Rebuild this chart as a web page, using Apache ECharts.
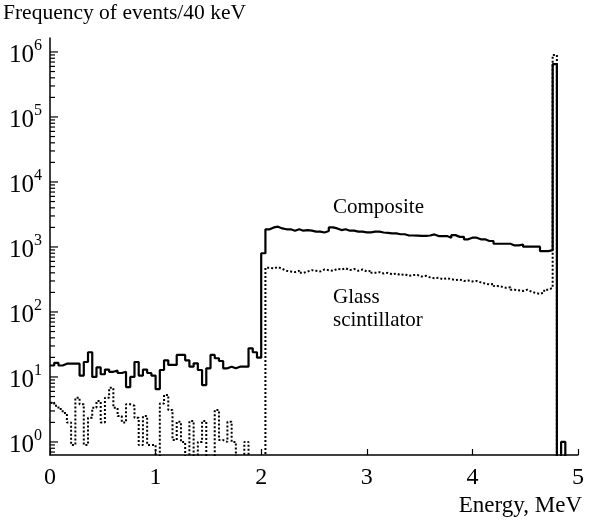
<!DOCTYPE html>
<html lang="en">
<head>
<meta charset="UTF-8" />
<title>Energy spectrum</title>
<script src="https://cdn.jsdelivr.net/npm/echarts@6/dist/echarts.min.js"></script>
<style>
    html, body { margin: 0; padding: 0; background: #fff; }
    #chart { width: 592px; height: 520px; }
</style>
</head>
<body>
<div id="chart"></div>
<script>
// 40 keV bins, counts per bin
var binWidth = 0.04;

var composite = [
    15, 16.5, 15, 16, 16, 16, 16, 10.5, 17, 24, 10, 14, 11, 13, 12, 12.5, 11.5, 12, 7, 10, 17, 10.5, 13, 11.5, 10.5,
    6.5, 12.8, 18, 15.3, 15.3, 21.8, 21.8, 18, 14.4, 16.2, 12.8, 7.5, 13.6, 21.8, 19.4, 17.6, 13.6, 14.4, 13.6, 14.4, 14.4, 14.4, 27.6, 24, 19.8,
    800, 1870, 2000, 2050, 1930, 1870, 1870, 1780, 1870, 1780, 1820, 1780, 1720, 1720, 1670, 1760, 2000, 1930, 1820, 1870, 1780, 1780, 1720, 1720, 1680,
    1680, 1720, 1720, 1670, 1650, 1620, 1620, 1570, 1570, 1500, 1500, 1490, 1480, 1480, 1500, 1560, 1470, 1470, 1470, 1390, 1520, 1430, 1430, 1310, 1390,
    1390, 1310, 1310, 1235, 1235, 1120, 1120, 1120, 1120, 1055, 1055, 1090, 1010, 1010, 1010, 1010, 865, 865, 895, 650000, 0, 1, 0, 0, 0
];

var glass = [
    4.0, 3.6, 3.2, 2.8, 2.0, 0.9, 4.8, 3.8, 0.9, 2.35, 3.35, 4.25, 2.0, 4.8, 6.8, 3.35, 2.5, 2.0, 3.8, 3.6, 2.35, 0.9, 2.5, 0.9, 0.9,
    0, 3.9, 5.3, 3.1, 1.07, 2.05, 1.0, 0, 2.1, 0, 1.0, 2.1, 0, 0, 3.1, 1.07, 1.0, 2.05, 1.0, 0, 0, 1.0, 0, 0, 0,
    0, 480, 470, 490, 460, 430, 420, 410, 430, 400, 420, 440, 430, 420, 450, 440, 430, 460, 450, 470, 440, 460, 430, 450, 420,
    430, 400, 410, 390, 400, 380, 390, 370, 380, 360, 370, 370, 350, 360, 340, 330, 335, 320, 330, 320, 310, 315, 300, 305, 295,
    300, 285, 275, 265, 270, 250, 245, 235, 240, 220, 215, 210, 220, 205, 195, 190, 200, 220, 235, 900000, 0, 0, 0, 0, 0
];

var xTicks = [0, 1, 2, 3, 4, 5];
var yDecades = [0, 1, 2, 3, 4, 5, 6];
var minorSteps = [2, 3, 4, 5, 6, 7, 8, 9];

var Y_MIN = 0.63;
var Y_MAX = 1.64e6;
var FLOOR = 0.1; // empty bins drop below the axis

var FONT = 'Liberation Serif';

function toSteps(counts) {
    var pts = [];
    counts.forEach(function (c, i) {
        pts.push([i * binWidth, c > 0 ? c : FLOOR]);
    });
    var last = counts[counts.length - 1];
    pts.push([counts.length * binWidth, last > 0 ? last : FLOOR]);
    return pts;
}

// y axis ticks (major at decades, minor 2..9)
var tickData = [];
yDecades.forEach(function (e) {
    tickData.push([0, Math.pow(10, e), 1]);
});
for (var e = -1; e < 6; e++) {
    minorSteps.forEach(function (m) {
        var v = m * Math.pow(10, e);
        if (v > Y_MIN && v < Y_MAX) tickData.push([0, v, 0]);
    });
}

var chart = echarts.init(document.getElementById('chart'));

var option = {
    animation: false,
    backgroundColor: '#fff',
    grid: { left: 50, right: 14, top: 38, bottom: 65 },
    xAxis: {
        type: 'value',
        min: xTicks[0],
        max: xTicks[xTicks.length - 1],
        interval: 1,
        axisLine: { lineStyle: { color: '#000', width: 1.5 } },
        axisTick: { inside: true, length: 6, lineStyle: { color: '#000', width: 1.2 } },
        axisLabel: { color: '#000', fontFamily: FONT, fontSize: 24, margin: 11 },
        splitLine: { show: false }
    },
    yAxis: {
        type: 'log',
        logBase: 10,
        min: Y_MIN,
        max: Y_MAX,
        axisLine: { show: true, lineStyle: { color: '#000', width: 1.5 } },
        axisTick: { show: false },
        splitLine: { show: false },
        axisLabel: {
            margin: 8,
            formatter: function (value) {
                var lg = Math.log10(value);
                var ex = Math.round(lg);
                if (Math.abs(lg - ex) > 1e-6 || yDecades.indexOf(ex) < 0) return '';
                return '{b|10}{s|' + ex + '}';
            },
            rich: {
                b: { fontFamily: FONT, fontSize: 25, lineHeight: 28, color: '#000', padding: [6, 0, 0, 0] },
                s: { fontFamily: FONT, fontSize: 16, lineHeight: 16, color: '#000', verticalAlign: 'top' }
            }
        }
    },
    graphic: [
        { type: 'text', left: 3, top: 2, style: { text: 'Frequency of events/40 keV', font: '21.5px "Liberation Serif"', fill: '#000' } },
        { type: 'text', right: 10, top: 494, style: { text: 'Energy, MeV', font: '23px "Liberation Serif"', fill: '#000' } },
        { type: 'text', left: 333, top: 197, style: { text: 'Composite', font: '21px "Liberation Serif"', fill: '#000' } },
        { type: 'text', left: 333, top: 286, style: { text: 'Glass\nscintillator', font: '21px "Liberation Serif"', lineHeight: 23, fill: '#000' } }
    ],
    series: [
        {
            name: 'Glass scintillator',
            type: 'line',
            step: 'end',
            symbol: 'none',
            data: toSteps(glass),
            lineStyle: { color: '#000', width: 2, type: [2, 2] },
            z: 2
        },
        {
            name: 'Composite',
            type: 'line',
            step: 'end',
            symbol: 'none',
            data: toSteps(composite),
            lineStyle: { color: '#000', width: 2.2 },
            z: 3
        },
        {
            name: 'yticks',
            type: 'custom',
            silent: true,
            clip: false,
            encode: { x: 0, y: 1 },
            data: tickData,
            renderItem: function (params, api) {
                var p = api.coord([0, api.value(1)]);
                var len = api.value(2) ? 8 : 5;
                return {
                    type: 'line',
                    shape: { x1: p[0], y1: p[1], x2: p[0] + len, y2: p[1] },
                    style: { stroke: '#000', lineWidth: 1.2 }
                };
            },
            z: 4
        }
    ]
};

chart.setOption(option);
</script>
</body>
</html>
